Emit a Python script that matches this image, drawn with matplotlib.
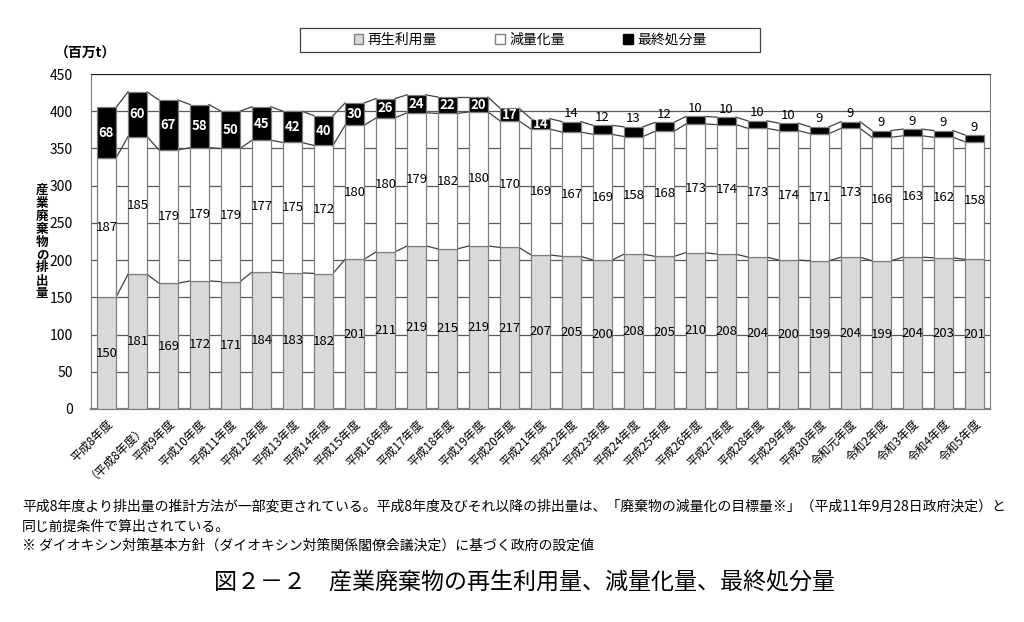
import matplotlib
matplotlib.use("Agg")
import matplotlib.pyplot as plt
from matplotlib.patches import Patch, Rectangle
import numpy as np

plt.rcParams['font.family'] = ['Noto Sans CJK JP', 'DejaVu Sans']

categories = ['平成8年度', '（平成8年度）', '平成9年度', '平成10年度', '平成11年度', '平成12年度',
              '平成13年度', '平成14年度', '平成15年度', '平成16年度', '平成17年度', '平成18年度',
              '平成19年度', '平成20年度', '平成21年度', '平成22年度', '平成23年度', '平成24年度',
              '平成25年度', '平成26年度', '平成27年度', '平成28年度', '平成29年度', '平成30年度',
              '令和元年度', '令和2年度', '令和3年度', '令和4年度', '令和5年度']
recycled = [150, 181, 169, 172, 171, 184, 183, 182, 201, 211, 219, 215, 219, 217, 207,
            205, 200, 208, 205, 210, 208, 204, 200, 199, 204, 199, 204, 203, 201]
reduced = [187, 185, 179, 179, 179, 177, 175, 172, 180, 180, 179, 182, 180, 170, 169,
           167, 169, 158, 168, 173, 174, 173, 174, 171, 173, 166, 163, 162, 158]
final = [68, 60, 67, 58, 50, 45, 42, 40, 30, 26, 24, 22, 20, 17, 14,
         14, 12, 13, 12, 10, 10, 10, 10, 9, 9, 9, 9, 9, 9]
series_names = ['再生利用量', '減量化量', '最終処分量']
yticks = [0, 50, 100, 150, 200, 250, 300, 350, 400, 450]
unit_label = '（百万t）'
ylabel = '産業廃棄物の排出量'
notes = ['平成8年度より排出量の推計方法が一部変更されている。平成8年度及びそれ以降の排出量は、「廃棄物の減量化の目標量※」（平成11年9月28日政府決定）と',
         '同じ前提条件で算出されている。',
         '※ ダイオキシン対策基本方針（ダイオキシン対策関係閣僚会議決定）に基づく政府の設定値']
title = '図２－２　産業廃棄物の再生利用量、減量化量、最終処分量'

fig = plt.figure(figsize=(10.24, 6.22), dpi=100)
ax = fig.add_axes([91 / 1024, 1 - 409 / 622, 899 / 1024, 335 / 622])

x = np.arange(len(categories))
w = 0.61
rec = np.array(recycled)
red = np.array(reduced)
fin = np.array(final)
edge = '#7f7f7f'

ax.bar(x, rec, w, color='#d9d9d9', edgecolor=edge, linewidth=0.9, zorder=3)
ax.bar(x, red, w, bottom=rec, color='white', edgecolor=edge, linewidth=0.9, zorder=3)
ax.bar(x, fin, w, bottom=rec + red, color='black', edgecolor=edge, linewidth=0.9, zorder=3)

# series lines
for level in [rec, rec + red, rec + red + fin]:
    for i in range(len(x) - 1):
        ax.plot([x[i] + w / 2, x[i + 1] - w / 2], [level[i], level[i + 1]],
                color='#404040', lw=0.9, zorder=2.5)

# data labels
for i in range(len(x)):
    ax.text(x[i], rec[i] / 2, str(rec[i]), ha='center', va='center', fontsize=9.5, zorder=5)
    ax.text(x[i], rec[i] + red[i] / 2, str(red[i]), ha='center', va='center', fontsize=9.5, zorder=5)
    top = rec[i] + red[i] + fin[i]
    if i < 15:
        ax.text(x[i], rec[i] + red[i] + fin[i] / 2, str(fin[i]), ha='center', va='center',
                fontsize=9.5, color='white', fontweight='bold', zorder=5)
    else:
        ax.text(x[i], top + 2, str(fin[i]), ha='center', va='bottom', fontsize=9.5,
                color='black', zorder=5)

ax.set_xlim(-0.5, len(x) - 0.5)
ax.set_ylim(0, 450)
ax.set_yticks(yticks)
ax.set_yticklabels([str(v) for v in yticks], fontsize=10)
ax.yaxis.grid(True, color='#595959', lw=0.9, zorder=0)
ax.set_axisbelow(True)
ax.set_xticks(x)
ax.set_xticklabels(categories, rotation=45, ha='right', rotation_mode='anchor', fontsize=8.5)
ax.tick_params(axis='both', length=0)
ax.tick_params(axis='y', pad=13)
ax.tick_params(axis='x', pad=6)
for s in ['left', 'right', 'bottom']:
    ax.spines[s].set_color(edge)
ax.spines['bottom'].set_linewidth(1.6)
ax.spines['top'].set_color('#202020')

fig.text(55 / 1024, 1 - 54 / 622, unit_label, fontsize=10, fontweight='bold', ha='left', va='center')
fig.text(42 / 1024, 1 - 242 / 622, '\n'.join(ylabel), fontsize=9, fontweight='bold',
         ha='center', va='center', linespacing=1.0)

# legend box
fig.add_artist(Rectangle((300 / 1024, 1 - 52 / 622), 460 / 1024, 24 / 622,
                         transform=fig.transFigure, fill=False, edgecolor='#404040', lw=0.9))
handles = [Patch(facecolor='#d9d9d9', edgecolor=edge),
           Patch(facecolor='white', edgecolor=edge),
           Patch(facecolor='black', edgecolor='black')]
fig.legend(handles, series_names, loc='center', bbox_to_anchor=(530 / 1024, 1 - 40 / 622),
           ncol=3, frameon=False, fontsize=10, handlelength=0.7, handleheight=0.7,
           handletextpad=0.3, columnspacing=4.2)

fig.text(22 / 1024, 1 - 507 / 622, notes[0], fontsize=10, ha='left', va='center')
fig.text(22 / 1024, 1 - 527 / 622, notes[1], fontsize=10, ha='left', va='center')
fig.text(22 / 1024, 1 - 546 / 622, notes[2], fontsize=10, ha='left', va='center')
fig.text(524 / 1024, 1 - 583 / 622, title, fontsize=16.6, ha='center', va='center')

fig.savefig('out.png', dpi=100)
